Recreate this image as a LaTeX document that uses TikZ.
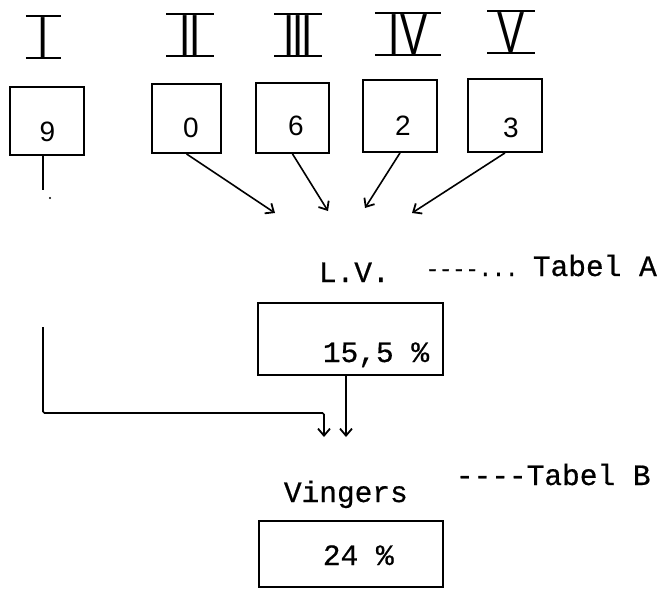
\documentclass[tikz,border=0pt]{standalone}
\usepackage{fontspec}
\setmainfont{Liberation Mono}[Ligatures=TeXOff, FakeBold=0.6]
\IfFontExistsTF{FiraSans-Light.otf}
  {\newfontfamily\romfont{FiraSans-Light.otf}[FakeStretch=0.7]}
  {\newfontfamily\romfont{Liberation Sans}[FakeStretch=0.7]}
\newfontfamily\digfont{Liberation Sans}
\usetikzlibrary{arrows.meta}
\begin{document}
\begin{tikzpicture}[x=1pt,y=-1pt,
  line width=1.8pt,
  boxnode/.style={draw, rectangle, inner sep=0pt, line width=1.8pt},
  romnum/.style={font=\romfont\fontsize{58}{58}\selectfont, anchor=south, inner ysep=0pt},
  digit/.style={font=\digfont\fontsize{28}{28}\selectfont, anchor=base, inner sep=0pt},
  tw/.style={font=\fontsize{29.5}{30}\selectfont, anchor=base west, inner sep=0pt},
  arr/.style={-{Straight Barb[length=7pt,width=12pt,line width=1.8pt]}, line width=1.6pt},
  bar/.style={line width=2pt}
]
\useasboundingbox (0,0) rectangle (659,589);

% roman numerals
\node[romnum, inner xsep=11pt] (r1) at (43.5,58) {I};
\node[romnum, inner xsep=12.5pt] (r2) at (190,56) {I\kern-2pt I};
\node[romnum, inner xsep=8.5pt] (r3) at (298,56) {I\kern-2.5pt I\kern-2.5pt I};
\node[romnum, inner xsep=13pt] (r4) at (408,55) {IV};
\node[romnum, inner xsep=9.5pt] (r5) at (511,53) {V};
\foreach \r in {r1,r2,r3,r4,r5}{
  \draw[bar] (\r.north west) -- (\r.north east);
  \draw[bar] (\r.south west) -- (\r.south east);
}

% boxes
\node[boxnode, minimum width=74pt, minimum height=68pt] (box9) at (47,121) {};
\node[boxnode, minimum width=69pt, minimum height=69pt] (box0) at (186.5,118.5) {};
\node[boxnode, minimum width=73pt, minimum height=70pt] (box6) at (292.5,118) {};
\node[boxnode, minimum width=74pt, minimum height=72pt] (box2) at (400,116) {};
\node[boxnode, minimum width=74pt, minimum height=73pt] (box3) at (505,115.5) {};

\node[digit] (d9) at (47.5,141) {9};
\node[digit] (d0) at (191,137) {0};
\node[digit] (d6) at (296,135) {6};
\node[digit] (d2) at (403,135) {2};
\node[digit] (d3) at (511,137) {3};

% arrow ends
\coordinate (e0) at (275,213);
\coordinate (e6) at (328,211);
\coordinate (e2) at (365,208);
\coordinate (e3) at (412,213);
\draw[arr] (box0.south) -- (e0);
\draw[arr] (box6.south) -- (e6);
\draw[arr] (box2.south) -- (e2);
\draw[arr] (box3.south) -- (e3);

% stub under box 9
\coordinate (stub) at (43,190);
\draw ([xshift=-4pt]box9.south) -- (stub);
\fill (50,198) circle (1.2pt);

% texts
\node[tw] (lv) at (318,282) {L.V.};
\node[tw, font=\fontsize{22}{22}\selectfont] (leadA) at (425,276) {----...};
\node[tw] (tabA) at (532,276) {Tabel A};
\node[tw] (tabB) at (455,485) {----Tabel B};
\node[tw] (ving) at (283,502) {Vingers};

% LV box
\node[boxnode, minimum width=185pt, minimum height=72pt] (lvbox) at (350.5,339) {};
\node[tw] (lvval) at (322,362) {15,5 \%};

% Vingers box
\node[boxnode, minimum width=184pt, minimum height=66pt] (vbox) at (351,554) {};
\node[tw] (vval) at (322,565) {24 \%};

% lower connectors
\coordinate (lstart) at (43,327);
\coordinate (lcorner) at (43,413);
\coordinate (tipA) at (324,437);
\coordinate (tipB) at (346,437);
\draw[arr, rounded corners=1.5pt] (lstart) |- (tipA |- lcorner) -- (tipA);
\draw[arr] ([xshift=-4.5pt]lvbox.south) -- (tipB);
\end{tikzpicture}
\end{document}
